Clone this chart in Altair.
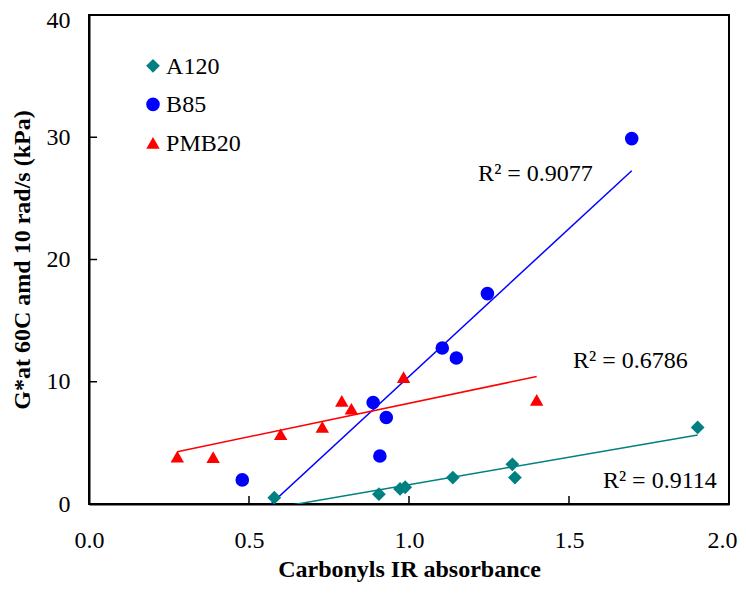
import altair as alt
import pandas as pd

# ---- data ----
series = ["A120", "B85", "PMB20"]

a120_x = [0.579, 0.906, 0.972, 0.988, 1.137, 1.323, 1.331, 1.902]
a120_y = [0.52, 0.80, 1.23, 1.37, 2.16, 3.25, 2.16, 6.26]

b85_x = [0.479, 0.888, 0.909, 0.929, 1.104, 1.148, 1.245, 1.696]
b85_y = [1.97, 8.30, 3.93, 7.08, 12.76, 11.94, 17.21, 29.89]

pmb20_x = [0.276, 0.388, 0.599, 0.729, 0.790, 0.820, 0.983, 1.399]
pmb20_y = [3.88, 3.83, 5.71, 6.31, 8.44, 7.79, 10.38, 8.52]

r2_labels = ["R\u00b2 = 0.9114", "R\u00b2 = 0.9077", "R\u00b2 = 0.6786"]

x_ticks = [0.0, 0.5, 1.0, 1.5, 2.0]
y_ticks = [0, 10, 20, 30, 40]

# annotation / legend anchor positions (layout, in data units)
r2_pos_x = [1.606, 1.216, 1.5125]
r2_pos_y = [1.31, 26.4, 11.15]
legend_marker_x = 0.200
legend_label_x = 0.241
legend_row_y = [35.84, 32.69, 29.54]

# ---- styling ----
colors = ["#008080", "#0000FF", "#FF0000"]
shapes = ["diamond", "circle", "triangle-up"]
sizes = [190, 180, 250]
FONT = "Liberation Serif"

rows = []
for name, xs_, ys_ in zip(series, [a120_x, b85_x, pmb20_x], [a120_y, b85_y, pmb20_y]):
    for xv, yv in zip(xs_, ys_):
        rows.append({"series": name, "x": xv, "y": yv})
df = pd.DataFrame(rows)

df_text = pd.DataFrame({"label": r2_labels, "x": r2_pos_x, "y": r2_pos_y})
df_leg_pts = pd.DataFrame({"series": series, "x": [legend_marker_x] * 3, "y": legend_row_y})
df_leg_txt = pd.DataFrame({"series": series, "x": [legend_label_x] * 3, "y": legend_row_y})
df_xt = pd.DataFrame({"x": x_ticks})
df_yt = pd.DataFrame({"y": y_ticks})

xscale = alt.Scale(domain=[0, 2], nice=False, zero=False)
yscale = alt.Scale(domain=[0, 40], nice=False)

X = alt.X("x:Q", scale=xscale,
          axis=alt.Axis(values=x_ticks, format=".1f", title="Carbonyls IR absorbance",
                        labelPadding=24, titlePadding=5,
                        labelOffset={"condition": {"test": "datum.value >= 2", "value": -7}, "value": 0}))
Y = alt.Y("y:Q", scale=yscale,
          axis=alt.Axis(values=y_ticks, format="d", title="G*at 60C amd 10 rad/s (kPa)",
                        labelPadding=19, titlePadding=12,
                        labelOffset={"condition": {"test": "datum.value >= 40", "value": 5}, "value": 0}))

col_scale = alt.Scale(domain=series, range=colors)
shp_scale = alt.Scale(domain=series, range=shapes)
siz_scale = alt.Scale(domain=series, range=sizes)

lines = alt.Chart(df).transform_regression(
    "x", "y", groupby=["series"]
).mark_line(strokeWidth=1.5, clip=True).encode(
    x=X, y=Y,
    stroke=alt.Stroke("series:N", scale=col_scale, legend=None),
)

points = alt.Chart(df).mark_point(filled=True, opacity=1, strokeWidth=0).encode(
    x=X, y=Y,
    color=alt.Color("series:N", scale=col_scale, legend=None),
    shape=alt.Shape("series:N", scale=shp_scale, legend=None),
    size=alt.Size("series:N", scale=siz_scale, legend=None),
)

leg_pts = alt.Chart(df_leg_pts).mark_point(filled=True, opacity=1, strokeWidth=0).encode(
    x=X, y=Y,
    color=alt.Color("series:N", scale=col_scale, legend=None),
    shape=alt.Shape("series:N", scale=shp_scale, legend=None),
    size=alt.Size("series:N", scale=siz_scale, legend=None),
)
leg_txt = alt.Chart(df_leg_txt).mark_text(
    align="left", baseline="middle", dy=1, font=FONT, fontSize=24, color="black"
).encode(x=X, y=Y, text="series:N")

texts = alt.Chart(df_text).mark_text(
    align="left", baseline="alphabetic", font=FONT, fontSize=24, color="black"
).encode(x=X, y=Y, text="label:N")

xt = alt.Chart(df_xt).mark_rule(color="black", strokeWidth=1.5).encode(
    x=X, y=alt.value(489), y2=alt.value(481),
)
yt = alt.Chart(df_yt).mark_rule(color="black", strokeWidth=1.5).encode(
    y=Y, x=alt.value(0), x2=alt.value(8),
)

chart = alt.layer(lines, points, leg_pts, leg_txt, texts, xt, yt).properties(
    width=640, height=489,
    autosize=alt.AutoSizeParams(type="none"),
    padding={"left": 81, "top": 7, "right": 9, "bottom": 80},
).configure_view(
    stroke="black", strokeWidth=2
).configure_axis(
    grid=False, ticks=False, domain=True, domainColor="black", domainWidth=2,
    labelFont=FONT, labelFontSize=24, labelColor="black",
    labelFlush=False, labelOverlap=False,
    titleFont=FONT, titleFontSize=24, titleFontWeight="bold", titleColor="black",
)

chart.save("out.html", embed_options={"renderer": "svg", "actions": False})
